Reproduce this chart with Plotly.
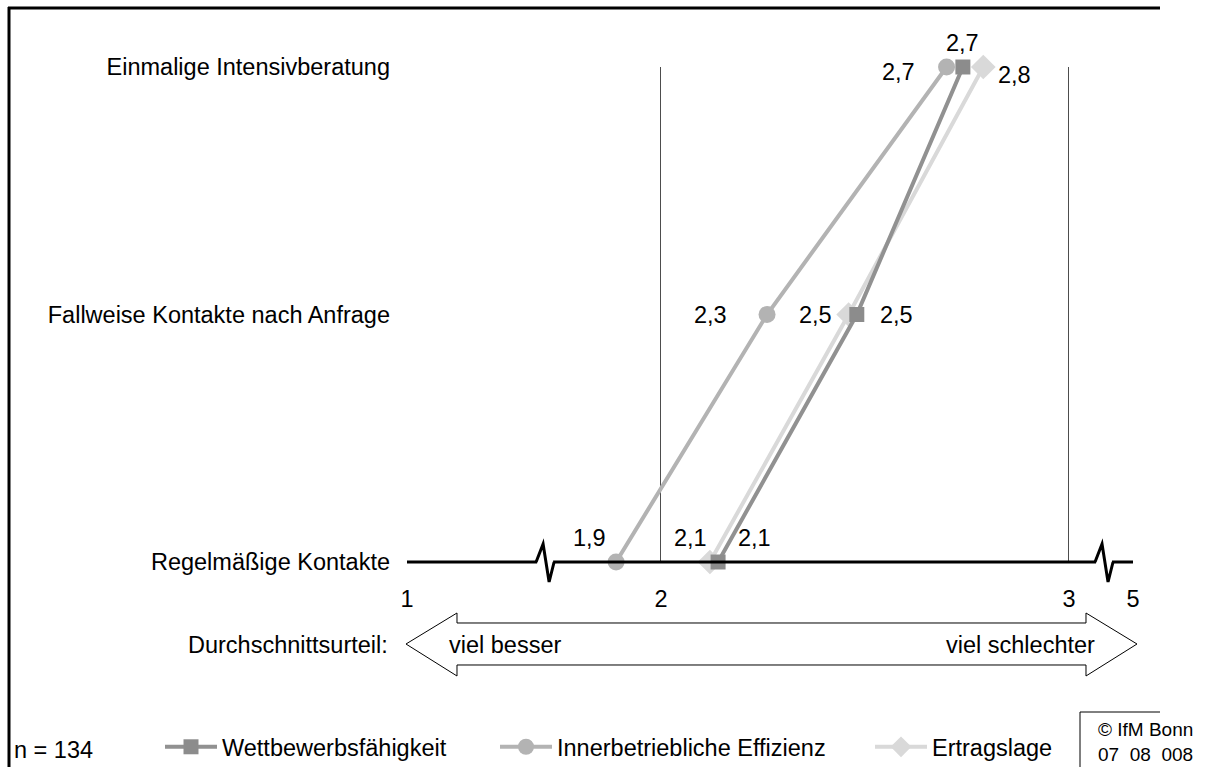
import plotly.graph_objects as go

# --- data -------------------------------------------------------------------
categories = ["Regelmäßige Kontakte", "Fallweise Kontakte nach Anfrage", "Einmalige Intensivberatung"]
series_names = ["Wettbewerbsfähigkeit", "Innerbetriebliche Effizienz", "Ertragslage"]
wettbewerb = [2.14, 2.48, 2.74]
effizienz = [1.89, 2.26, 2.70]
ertrag = [2.12, 2.46, 2.79]
tick_labels = ["1", "2", "3", "5"]
sample_note = "n = 134"
scale_title = "Durchschnittsurteil:"
scale_left = "viel besser"
scale_right = "viel schlechter"

# --- layout constants -------------------------------------------------------
W, H = 1211, 767
ML, MR, MT, MB = 407, 78, 67, 205
PW, PH = W - ML - MR, H - MT - MB
FONT = "Liberation Sans, Arial, sans-serif"
FS = 23.5
FRAME_RIGHT = 1160

# broken scale: 2..3 is linear, the ends "1" and "5" sit at compressed positions
X_ONE, X_FIVE = 1.3775, 3.157
BREAKS = [1.716, 3.086]
tick_vals = [X_ONE, 2, 3, X_FIVE]


def px(x):
    return (x - ML) / PW


def py(y):
    return (MT + PH - y) / PH


def fmt(v):
    return f"{v:.1f}".replace(".", ",")


def hline(x0, x1, y, width):
    return dict(type="line", xref="paper", yref="paper", x0=px(x0), x1=px(x1),
                y0=py(y), y1=py(y), line=dict(color="black", width=width))


def vline(x, y0, y1, width):
    return dict(type="line", xref="paper", yref="paper", x0=px(x), x1=px(x),
                y0=py(y0), y1=py(y1), line=dict(color="black", width=width))


styles = [
    dict(name=series_names[0], values=wettbewerb, color="#8c8c8c", line="#919191",
         symbol="square", size=15, legend="legend",
         offsets=[(36, 24), (40, 0), (0, 24)]),
    dict(name=series_names[1], values=effizienz, color="#b3b3b3", line="#b3b3b3",
         symbol="circle", size=17, legend="legend2",
         offsets=[(-27, 24), (-57, 0), (-48, -5)]),
    dict(name=series_names[2], values=ertrag, color="#d9d9d9", line="#d9d9d9",
         symbol="diamond", size=19, legend="legend3",
         offsets=[(-19, 24), (-33, 0), (31, -8)]),
]

fig = go.Figure()
annotations = []
# lightest series first so the darker markers sit on top
for s in reversed(styles):
    fig.add_trace(go.Scatter(
        x=s["values"], y=categories, mode="lines+markers", name=s["name"],
        line=dict(color=s["line"], width=4),
        marker=dict(color=s["color"], symbol=s["symbol"], size=s["size"]),
        cliponaxis=False, legend=s["legend"], hoverinfo="skip",
    ))
for s in styles:
    for cat, v, (dx, dy) in zip(categories, s["values"], s["offsets"]):
        annotations.append(dict(
            x=v, y=cat, xref="x", yref="y", text=fmt(v), showarrow=False,
            xshift=dx, yshift=dy, font=dict(size=FS, color="black", family=FONT),
        ))

# scale arrow and captions
annotations += [
    dict(x=px(390), y=py(645), xref="paper", yref="paper", text=scale_title,
         showarrow=False, xanchor="right", yanchor="middle",
         font=dict(size=FS, color="black", family=FONT)),
    dict(x=px(447), y=py(645), xref="paper", yref="paper", text=scale_left,
         showarrow=False, xanchor="left", yanchor="middle",
         font=dict(size=FS, color="black", family=FONT)),
    dict(x=px(1097), y=py(645), xref="paper", yref="paper", text=scale_right,
         showarrow=False, xanchor="right", yanchor="middle",
         font=dict(size=FS, color="black", family=FONT)),
    dict(x=px(12), y=py(750), xref="paper", yref="paper", text=sample_note,
         showarrow=False, xanchor="left", yanchor="middle",
         font=dict(size=FS, color="black", family=FONT)),
    dict(x=px(1096), y=py(742), xref="paper", yref="paper",
         text="© IfM Bonn<br>07  08  008", showarrow=False, xanchor="left",
         yanchor="middle", align="left",
         font=dict(size=19, color="black", family=FONT)),
]

arrow_pts = [(406, 644), (457, 613), (457, 623), (1086, 623), (1086, 613), (1137, 644),
             (1086, 676), (1086, 665), (457, 665), (457, 676)]
arrow_path = "M " + " L ".join(f"{px(a):.5f},{py(b):.5f}" for a, b in arrow_pts) + " Z"

shapes = [
    # frame (top and left edges)
    hline(8, FRAME_RIGHT, 8, 3),
    vline(9, 7, H, 3),
    # copyright box (open towards the page edges)
    hline(1080, FRAME_RIGHT, 712, 1),
    vline(1080, 712, H, 1),
    # scale arrow
    dict(type="path", xref="paper", yref="paper", path=arrow_path,
         line=dict(color="black", width=1), fillcolor="white"),
    # category axis baseline
    dict(type="line", xref="x", yref="paper", x0=X_ONE, x1=X_FIVE, y0=0, y1=0,
         line=dict(color="black", width=3)),
]
for b in BREAKS:
    shapes.append(dict(type="rect", xref="x", yref="paper", xsizemode="pixel", ysizemode="pixel",
                       xanchor=b, yanchor=0, x0=-8, x1=8, y0=-3, y1=3,
                       line=dict(width=0), fillcolor="white"))
    shapes.append(dict(type="path", xref="x", yref="paper", xsizemode="pixel", ysizemode="pixel",
                       xanchor=b, yanchor=0, path="M-9,0 L-2,18 L4,-20 L9,0",
                       line=dict(color="black", width=3)))

legend_common = dict(orientation="h", xref="container", yref="container", yanchor="middle",
                     xanchor="left", bgcolor="rgba(0,0,0,0)", itemwidth=52,
                     font=dict(size=FS, color="black", family=FONT))

fig.update_layout(
    width=W, height=H, template="none",
    margin=dict(l=ML, r=MR, t=MT, b=MB, pad=0),
    paper_bgcolor="white", plot_bgcolor="white",
    font=dict(family=FONT, size=FS, color="black"),
    xaxis=dict(range=[X_ONE, X_FIVE], tickvals=tick_vals, ticktext=tick_labels,
               showgrid=True, gridcolor="#4d4d4d", gridwidth=1, zeroline=False,
               showline=False, ticks="", ticklabelstandoff=20, automargin=False,
               tickfont=dict(size=FS, color="black", family=FONT)),
    yaxis=dict(type="category", categoryorder="array", categoryarray=categories,
               range=[0, 2], showgrid=False, zeroline=False, showline=False, ticks="",
               ticklabelstandoff=16, automargin=False,
               tickfont=dict(size=FS, color="black", family=FONT)),
    legend=dict(x=160 / W, y=1 - 747 / H, **legend_common),
    legend2=dict(x=495 / W, y=1 - 747 / H, **legend_common),
    legend3=dict(x=870 / W, y=1 - 747 / H, **legend_common),
    annotations=annotations,
    shapes=shapes,
    showlegend=True,
)

fig.write_html("out.html")
